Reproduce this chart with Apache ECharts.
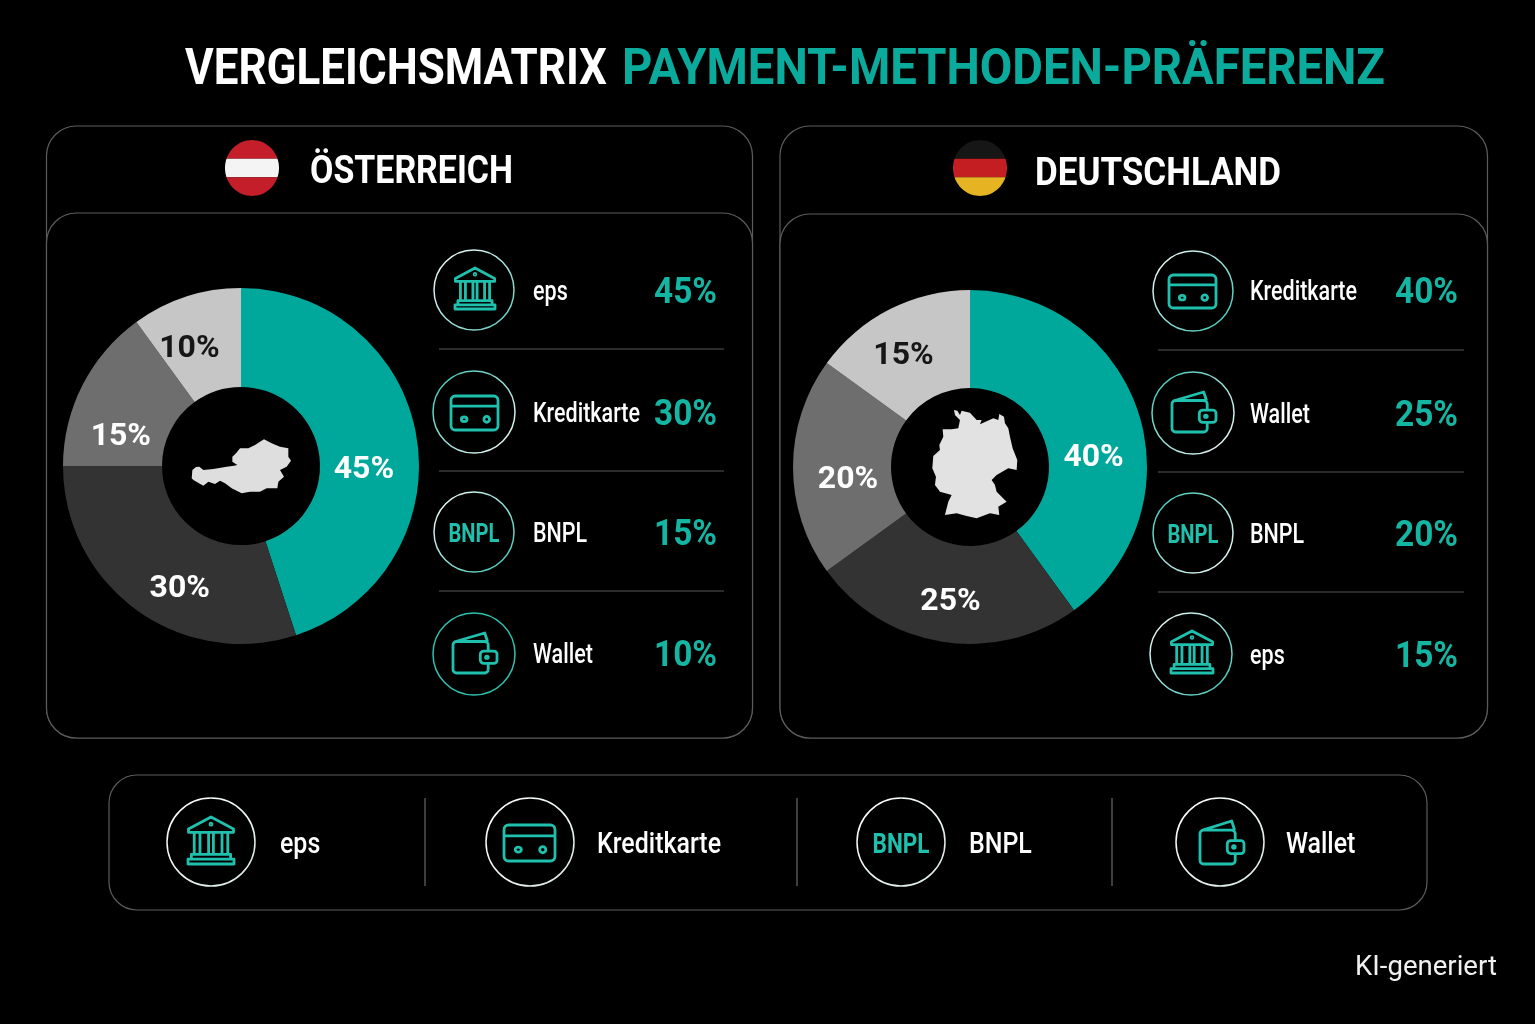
<!DOCTYPE html>
<html><head><meta charset="utf-8">
<style>html,body{margin:0;padding:0;background:#000}#c{width:1535px;height:1024px}</style>
<script src="https://cdn.jsdelivr.net/npm/echarts@6/dist/echarts.min.js"></script>
</head><body><div id="c"></div>
<script>
// ---- chart data ----
const titleWhite = 'VERGLEICHSMATRIX';
const titleTeal = 'PAYMENT-METHODEN-PRÄFERENZ';
const atName = 'ÖSTERREICH';
const deName = 'DEUTSCHLAND';
const atMethods = ['eps', 'Kreditkarte', 'BNPL', 'Wallet'];
const atShares = [45, 30, 15, 10];
const deMethods = ['Kreditkarte', 'Wallet', 'BNPL', 'eps'];
const deShares = [40, 25, 20, 15];
const legendMethods = ['eps', 'Kreditkarte', 'BNPL', 'Wallet'];
const footnote = 'KI-generiert';
// ---- style ----
const TEAL = '#0aab9c', ICON = '#1fc0ad', VALUE = '#14b5a3', LINE = '#5c5c5c';
const sliceColors = ['#00a79b', '#333333', '#6e6e6e', '#c6c6c6'];
const FF = 'Roboto, sans-serif';
const ctx = document.createElement('canvas').getContext('2d');
function fit(str, font, w) { ctx.font = font; return w / ctx.measureText(str).width; }
const fTitle = '700 50px ' + FF, fHead = '700 39px ' + FF, fLab = '500 27px ' + FF,
      fVal = '700 37px ' + FF, fLeg = '500 30px ' + FF, fBn = '700 25px ' + FF, fBnL = '700 27px ' + FF,
      fFoot = '400 28px ' + FF;
const sLab = fit('Kreditkarte', fLab, 107), sVal = fit('45%', fVal, 63), sLeg = fit('Kreditkarte', fLeg, 124),
      sBn = fit('BNPL', fBn, 51), sBnL = fit('BNPL', fBnL, 57);

function txt(str, x, y, font, fill, s, align) {
  const size = parseFloat(font.split(' ')[1]);
  return { type: 'text', x, y: y + size * 0.09, scaleX: s, style: { text: str, x: 0, y: 0, font, fill, align: align || 'left', verticalAlign: 'middle' } };
}
function roundRect(x, y, w, h, r, stroke) {
  return { type: 'rect', shape: { x, y, width: w, height: h, r }, style: { fill: '#000', stroke: stroke || LINE, lineWidth: 1.2 } };
}
function hline(x1, x2, y) { return { type: 'line', shape: { x1, y1: y, x2, y2: y }, style: { stroke: '#565656', lineWidth: 1.2 } }; }
function vline(x, y1, y2) { return { type: 'line', shape: { x1: x, y1, x2: x, y2 }, style: { stroke: '#6a6a6a', lineWidth: 1.2 } }; }
function ring(cx, cy, r, c1, c2) {
  const stroke = new echarts.graphic.LinearGradient(0, 0, 1, 1, [{ offset: 0, color: c1 }, { offset: 1, color: c2 }]);
  return { type: 'circle', shape: { cx, cy, r }, style: { fill: 'none', stroke, lineWidth: 1.5 } };
}
function path(d, x, y, w, h, style) {
  return { type: 'path', shape: { pathData: d, x, y, width: w, height: h, layout: 'cover' }, style };
}
const iconPaths = {
  eps: 'M50 0 L97 25 V32 H3 V25 Z M50 13 A2 2 0 1 1 49.9 13 Z M15 32 V78 M27 32 V78 M45 32 V78 M55 32 V78 M73 32 V78 M85 32 V78 M9 78 H91 V88 H9 Z M2 88 H98 V98 H2 Z',
  Kreditkarte: 'M9 0 H91 A9 9 0 0 1 100 9 V61 A9 9 0 0 1 91 70 H9 A9 9 0 0 1 0 61 V9 A9 9 0 0 1 9 0 Z M0 21 H100 M22 48 A5 4 0 1 1 34 48 A5 4 0 1 1 22 48 Z M70 48 A6 6 0 1 1 82 48 A6 6 0 1 1 70 48 Z',
  Wallet: 'M6 22 L72 1 L78 20 M8 22 H72 A8 8 0 0 1 80 30 V46 M80 76 V92 A8 8 0 0 1 72 100 H8 A8 8 0 0 1 0 92 V30 A8 8 0 0 1 8 22 M70 46 H93 A7 7 0 0 1 100 53 V69 A7 7 0 0 1 93 76 H70 A8 8 0 0 1 62 68 V54 A8 8 0 0 1 70 46 Z M74 61 A3 3 0 1 1 80 61 A3 3 0 1 1 74 61 Z'
};
function drawIcon(name, box) {
  if (name === 'BNPL') {
    return txt('BNPL', box.cx, box.cy + 1, box.big ? fBnL : fBn, ICON, box.big ? sBnL : sBn, 'center');
  }
  return path(iconPaths[name], box[name][0], box[name][1], box[name][2], box[name][3],
    { fill: 'none', stroke: ICON, lineWidth: 2.8, lineJoin: 'round', lineCap: 'round' });
}
function flag(cx, cy, rx, ry, cols) {
  const h = 2 * ry / 3, out = [];
  cols.forEach((c, i) => {
    const y1 = cy - ry + i * h, y2 = y1 + h, left = [], right = [];
    for (let k = 0; k <= 24; k++) {
      const y = y1 + (y2 - y1) * k / 24, dx = rx * Math.sqrt(Math.max(0, 1 - Math.pow((y - cy) / ry, 2)));
      right.push([cx + dx, y]); left.unshift([cx - dx, y]);
    }
    out.push({ type: 'polygon', shape: { points: right.concat(left) }, style: { fill: c } });
  });
  return out;
}
const atMap = 'M97 150 L108 141 L118 140 L130 150 L160 147 L200 140 L222 137 L232 135 L217 125 L217 110 L228 100 L240 85 L265 85 L285 75 L300 65 L312 58 L335 70 L360 80 L385 85 L385 110 L393 122 L380 140 L360 150 L372 170 L355 185 L352 205 L320 205 L300 215 L270 215 L245 220 L215 205 L195 190 L180 182 L165 192 L145 185 L130 197 L100 180 L95 175 Z';
const deMap = 'M222 120 L232 122 L240 135 L245 122 L270 128 L290 150 L305 150 L300 163 L340 145 L355 150 L358 132 L372 140 L375 160 L385 175 L390 200 L398 235 L412 270 L410 300 L385 295 L350 315 L335 330 L345 345 L350 365 L380 395 L355 410 L358 435 L330 430 L290 445 L260 438 L230 430 L195 435 L205 395 L215 375 L180 365 L165 345 L168 320 L157 295 L160 258 L180 240 L178 225 L190 200 L188 178 L215 178 L235 175 L240 150 L225 135 Z';

// per-panel layout
const atRows = { labelX: 533, valueR: 717, ringX: [474, 474, 474, 474], ringY: [290, 412, 532, 654], ringR: [40, 41, 40, 41], textY: [291, 413, 533, 654],
  rings: [['#ffffff', '#55c9bb'], ['#2fc0b0', '#ffffff'], ['#ffffff', '#2fc0b0'], ['#2fc0b0', '#2fc0b0']],
  boxes: [{ eps: [455, 268, 40, 41] }, { Kreditkarte: [451, 396, 47, 34] }, { cx: 474, cy: 532 }, { Wallet: [453, 633, 44, 40] }] };
const deRows = { labelX: 1250, valueR: 1458, ringX: [1193, 1193, 1193, 1191], ringY: [291, 413, 533, 654], ringR: [40, 41, 40, 41], textY: [291, 414, 534, 655],
  rings: [['#ffffff', '#2fc0b0'], ['#2fc0b0', '#ffffff'], ['#2fc0b0', '#ffffff'], ['#ffffff', '#2fc0b0']],
  boxes: [{ Kreditkarte: [1169, 275, 47, 33] }, { Wallet: [1172, 392, 44, 40] }, { cx: 1193, cy: 533 }, { eps: [1171, 631, 42, 42] }] };
const legendRows = { ringX: [211, 530, 901, 1220], labelX: [280, 597, 969, 1286],
  boxes: [{ eps: [188, 817, 46, 47] }, { Kreditkarte: [504, 825, 51, 36] }, { cx: 901, cy: 843, big: true }, { Wallet: [1200, 821, 44, 43] }] };
const atLabelOffsets = [[-7, 25], [16, 17], [-3, 31], [-11, 8]];
const deLabelOffsets = [[-1, 31], [1, 6], [9, 13], [-7, 6]];

function panel(methods, shares, r) {
  const out = [];
  methods.forEach((m, i) => {
    out.push(ring(r.ringX[i], r.ringY[i], r.ringR[i], r.rings[i][0], r.rings[i][1]));
    out.push(drawIcon(m, r.boxes[i]));
    out.push(txt(m, r.labelX, r.textY[i], fLab, '#fff', sLab));
    out.push(txt(shares[i] + '%', r.valueR, r.textY[i] - 1, fVal, VALUE, sVal, 'right'));
  });
  return out;
}

function renderDecor() {
  let ch = [];
  ch.push(txt(titleWhite, 185, 67, fTitle, '#fff', fit(titleWhite, fTitle, 422)));
  ch.push(txt(titleTeal, 622, 67, fTitle, TEAL, fit(titleTeal, fTitle, 763)));
  // panels
  ch.push(roundRect(46.5, 126, 706, 612, 30), roundRect(46.5, 213, 706, 525, 30));
  ch.push(roundRect(780, 126, 707.5, 612, 30), roundRect(780, 214, 707.5, 524, 30));
  ch.push(roundRect(109, 775, 1318, 135, 28));
  // headers
  ch = ch.concat(flag(252, 168, 27, 28, ['#c41e2a', '#f4f4f4', '#c41e2a']));
  ch = ch.concat(flag(980, 168, 27, 28, ['#161616', '#c41e22', '#e6b422']));
  ch.push(txt(atName, 310, 170, fHead, '#fff', fit(atName, fHead, 203)));
  ch.push(txt(deName, 1035, 172, fHead, '#fff', fit(deName, fHead, 246)));
  // rows
  ch = ch.concat(panel(atMethods, atShares, atRows), panel(deMethods, deShares, deRows));
  [349, 471, 591].forEach(y => ch.push(hline(439, 724, y)));
  [350, 472, 592].forEach(y => ch.push(hline(1158, 1464, y)));
  // legend strip
  [425, 797, 1112].forEach(x => ch.push(vline(x, 798, 886)));
  legendMethods.forEach((m, i) => {
    ch.push(ring(legendRows.ringX[i], 842, 44, '#ffffff', '#d8e8e6'));
    ch.push(drawIcon(m, legendRows.boxes[i]));
    ch.push(txt(m, legendRows.labelX[i], 843, fLeg, '#fff', sLeg));
  });
  ch.push(txt(footnote, 1355, 965, fFoot, '#f0f0f0', fit(footnote, fFoot, 142)));
  // country silhouettes in the donut holes
  ch.push(path(atMap, 191.7, 439.3, 99.3, 54, { fill: '#dedede' }));
  ch.push(path(deMap, 932.3, 410, 85, 108.3, { fill: '#e2e2e2' }));
  return { type: 'group', children: ch };
}

function donut(methods, shares, center, radius, offsets) {
  return {
    type: 'pie', z: 5, silent: true, animation: false, startAngle: 90, clockwise: true, sort: null,
    center, radius, avoidLabelOverlap: false, labelLine: { show: false },
    label: { position: 'inside', formatter: '{c}%', fontFamily: FF, fontWeight: 700, fontSize: 32, color: '#fff', textBorderWidth: 0, textShadowBlur: 0 },
    data: methods.map((m, i) => ({
      name: m, value: shares[i], itemStyle: { color: sliceColors[i] },
      label: i === 3 ? { color: '#161616', offset: offsets[i] } : { offset: offsets[i] }
    }))
  };
}

const chart = echarts.init(document.getElementById('c'), null, { renderer: 'canvas' });
chart.setOption({
  backgroundColor: '#000',
  animation: false,
  series: [
    { type: 'custom', coordinateSystem: 'none', silent: true, z: 1, data: [[0]], renderItem: renderDecor, clip: false },
    donut(atMethods, atShares, [241, 466], [79, 178], atLabelOffsets),
    donut(deMethods, deShares, [970, 467], [79, 177], deLabelOffsets)
  ]
});
</script></body></html>
